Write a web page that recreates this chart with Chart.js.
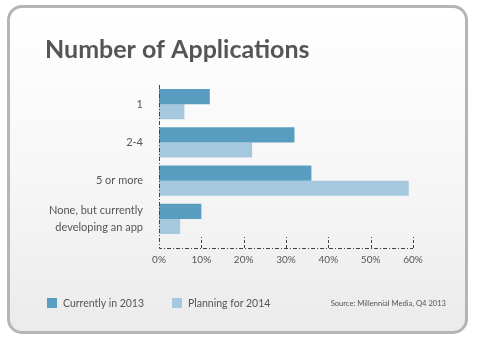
<!DOCTYPE html>
<html>
<head>
<meta charset="utf-8">
<script src="https://cdn.jsdelivr.net/npm/chart.js@4"></script>
<style>
  body{margin:0;width:478px;height:350px;background:#fff;position:relative;overflow:hidden;font-family:Lato,sans-serif;}
  #frame{position:absolute;left:7px;top:5px;width:455px;height:323px;border:3px solid #b5b5b5;border-radius:15px;
    background:linear-gradient(#ffffff 0%,#f7f7f7 50%,#ebebeb 100%);}
  #c{position:absolute;left:0;top:0;}
  .key{position:absolute;top:298px;height:10px;font-size:10.5px;color:#555;line-height:10px;white-space:nowrap;}
  .key i{position:absolute;left:0;top:0;width:10px;height:10px;}
  .key span{position:absolute;top:0;}
  #fonte{position:absolute;right:32px;top:298px;font-size:7.6px;color:#555;line-height:10px;white-space:nowrap;}
</style>
</head>
<body>
<div id="frame"></div>
<canvas id="c" width="478" height="350"></canvas>
<div id="legenda"></div>
<div id="fonte">Source: Millennial Media, Q4 2013</div>
<script>
const titulo = "Number of Applications";
const categorias = ["1", "2-4", "5 or more", ["None, but currently", "developing an app"]];
const series = ["Currently in 2013", "Planning for 2014"];
const atual2013 = [12, 32, 36, 10];
const plano2014 = [6, 22, 59, 5];
const ticksX = [0, 10, 20, 30, 40, 50, 60];
const cores = ["#599dc1", "#a5c8de"];

// eixo tracejado (traço-ponto) com marquinhas para cima
const eixos = {
  id: "eixos",
  afterDatasetsDraw(ch){
    const ctx = ch.ctx, x = ch.scales.x, a = ch.chartArea;
    const y0 = Math.round(a.bottom) + 10;
    const x0 = x.getPixelForValue(0);
    ctx.save();
    ctx.strokeStyle = "#444";
    ctx.lineWidth = 1;
    ctx.setLineDash([4,2,1,2]);
    ctx.beginPath();
    ctx.moveTo(Math.round(x0)+0.5, a.top);
    ctx.lineTo(Math.round(x0)+0.5, y0+0.5);
    ctx.lineTo(x.getPixelForValue(ticksX[ticksX.length-1]), y0+0.5);
    ctx.stroke();
    ctx.setLineDash([3,2]);
    ticksX.slice(1).forEach(v=>{
      const px = Math.round(x.getPixelForValue(v))+0.5;
      ctx.beginPath();
      ctx.moveTo(px, y0);
      ctx.lineTo(px, y0-11);
      ctx.stroke();
    });
    ctx.restore();
  }
};

new Chart(document.getElementById("c"),{
  type:"bar",
  data:{
    labels:categorias,
    datasets:[
      {label:series[0], data:atual2013, backgroundColor:cores[0]},
      {label:series[1], data:plano2014, backgroundColor:cores[1]}
    ]
  },
  options:{
    indexAxis:"y",
    responsive:false,
    animation:false,
    layout:{padding:{left:45,right:65,top:0,bottom:68}},
    datasets:{bar:{categoryPercentage:0.79,barPercentage:1}},
    plugins:{
      legend:{display:false},
      tooltip:{enabled:false},
      title:{
        display:true,
        text:titulo,
        align:"start",
        color:"#555558",
        font:{family:"Lato",weight:"bold",size:25,lineHeight:1.2},
        padding:{top:35,bottom:20}
      }
    },
    scales:{
      x:{
        min:0,max:60,
        grid:{display:false,drawTicks:false},
        border:{display:false},
        afterBuildTicks:s=>{s.ticks = ticksX.map(v=>({value:v}));},
        ticks:{callback:v=>v+"%",color:"#555",padding:16,font:{family:"Lato",size:10,lineHeight:1.2}}
      },
      y:{
        grid:{display:false,drawTicks:false},
        border:{display:false},
        afterFit:s=>{s.width = 114;},
        ticks:{autoSkip:false,color:"#555",padding:16,font:{family:"Lato",size:11,lineHeight:1.5}}
      }
    }
  },
  plugins:[eixos]
});

// legenda em html
const leg = document.getElementById("legenda");
const posLeg = [47, 172];
series.forEach((s,i)=>{
  const d = document.createElement("div");
  d.className = "key";
  d.style.left = posLeg[i]+"px";
  d.innerHTML = '<i style="background:'+cores[i]+'"></i><span style="left:16px">'+s+'</span>';
  leg.appendChild(d);
});
</script>
</body>
</html>
